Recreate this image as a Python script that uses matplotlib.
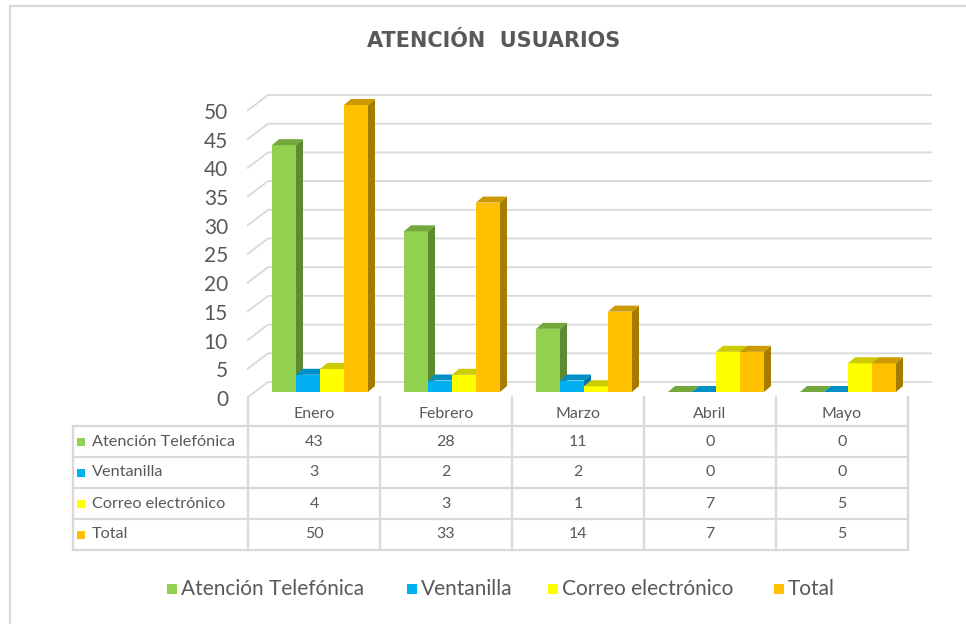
import numpy as np
import matplotlib.pyplot as plt
from matplotlib.patches import Polygon, Rectangle

# datos
meses = ['Enero', 'Febrero', 'Marzo', 'Abril', 'Mayo']
series = ['Atención Telefónica', 'Ventanilla', 'Correo electrónico', 'Total']
telefonica = [43, 28, 11, 0, 0]
ventanilla = [3, 2, 2, 0, 0]
correo = [4, 3, 1, 7, 5]
total = [50, 33, 14, 7, 5]
valores = [telefonica, ventanilla, correo, total]
yticks = list(range(0, 55, 5))

# colores: cara frontal, tapa, lateral
frente = ['#92D050', '#00B0F0', '#FFFF00', '#FFC000']
tapa = ['#74A83C', '#0090C8', '#CCCC00', '#CC9A00']
lado = ['#5E8A32', '#0078A8', '#B0B000', '#A67C00']
gris = '#D9D9D9'
texto = '#595959'
fuente = 'Lato'

W, H = 966, 624
fig = plt.figure(figsize=(W / 100, H / 100), dpi=100)
fig.patch.set_facecolor('white')

# marco del grafico (recortado a la derecha y abajo)
fig.patches.append(Rectangle((9.5 / W, -0.1), 1.2, 1.1 - 5.5 / H, transform=fig.transFigure,
                             fill=False, ec=gris, lw=1.6))

# ejes: x = meses (132 px cada uno), y = valores (5.74 px por unidad)
ax = fig.add_axes([248 / W, (H - 392) / H, 660 / W, 287 / H])
ax.set_xlim(0, 5)
ax.set_ylim(0, 50)
ax.axis('off')

def dx(p):
    return p / 132.0

def dy(p):
    return p / 5.74

def fila(p):
    # posicion vertical en pixeles (desde arriba) -> unidades de datos
    return (392 - p) / 5.74

# cuadricula en pared de fondo
for v in yticks:
    ax.plot([dx(-1), dx(20), 5 + dx(24)], [v + dy(-6), v + dy(10), v + dy(10)],
            color=gris, lw=1.3, clip_on=False, zorder=1, solid_capstyle='butt')
    ax.text(dx(-20), v - dy(8), str(v), ha='right', va='center', fontsize=15,
            color=texto, family=fuente, clip_on=False)

# barras 3D
ancho = dx(24)
ddx, ddy = dx(7), dy(6)
z = 2
for i in range(len(meses)):
    for j, vals in enumerate(valores):
        v = vals[i]
        x0 = i + dx(24) + j * ancho
        x1 = x0 + ancho
        if v > 0:
            ax.add_patch(Rectangle((x0, 0), ancho, v, fc=frente[j], ec='none', zorder=z, clip_on=False))
            ax.add_patch(Polygon([(x1, 0), (x1 + ddx, ddy), (x1 + ddx, v + ddy), (x1, v)],
                                 fc=lado[j], ec='none', zorder=z, clip_on=False))
        ax.add_patch(Polygon([(x0, v), (x1, v), (x1 + ddx, v + ddy), (x0 + ddx, v + ddy)],
                             fc=tapa[j], ec='none', zorder=z, clip_on=False))
        z += 1

# tabla de datos
izq = dx(73 - 248)
lineas_h = [426, 457, 488, 519, 550]
for p in lineas_h:
    ax.plot([izq, 5], [fila(p), fila(p)], color=gris, lw=1.6, clip_on=False, zorder=1)
for i in range(len(meses) + 1):
    ax.plot([i, i], [fila(397), fila(550)], color=gris, lw=1.6, clip_on=False, zorder=1)
ax.plot([izq, izq], [fila(426), fila(550)], color=gris, lw=1.6, clip_on=False, zorder=1)

for i, m in enumerate(meses):
    ax.text(i + 0.5, fila(414), m, ha='center', va='center', fontsize=11.5,
            color=texto, family=fuente, clip_on=False)

for j, (s, vals) in enumerate(zip(series, valores)):
    yc = fila((lineas_h[j] + lineas_h[j + 1]) / 2)
    ax.add_patch(Rectangle((dx(77 - 248), yc - dy(4)), dx(8), dy(8), fc=frente[j], ec='none',
                           clip_on=False))
    ax.text(dx(92 - 248), yc, s, ha='left', va='center', fontsize=11.7,
            color=texto, family=fuente, clip_on=False)
    for i, v in enumerate(vals):
        ax.text(i + 0.5, yc, str(v), ha='center', va='center', fontsize=11.5,
                color=texto, family=fuente, clip_on=False)

# titulo
fig.text(494 / W, 1 - 41 / H, 'ATENCIÓN  USUARIOS', ha='center', va='center', fontsize=15,
         fontweight='bold', color=texto, family='DejaVu Sans')

# leyenda
ley_x = [167, 407, 548, 774]
for j, s in enumerate(series):
    fig.patches.append(Rectangle((ley_x[j] / W, 1 - 594 / H), 10 / W, 10 / H,
                                 transform=fig.transFigure, fc=frente[j], ec='none'))
    fig.text((ley_x[j] + 14) / W, 1 - 589 / H, s, ha='left', va='center', fontsize=15,
             color=texto, family=fuente)

fig.savefig('out.png', dpi=100)
